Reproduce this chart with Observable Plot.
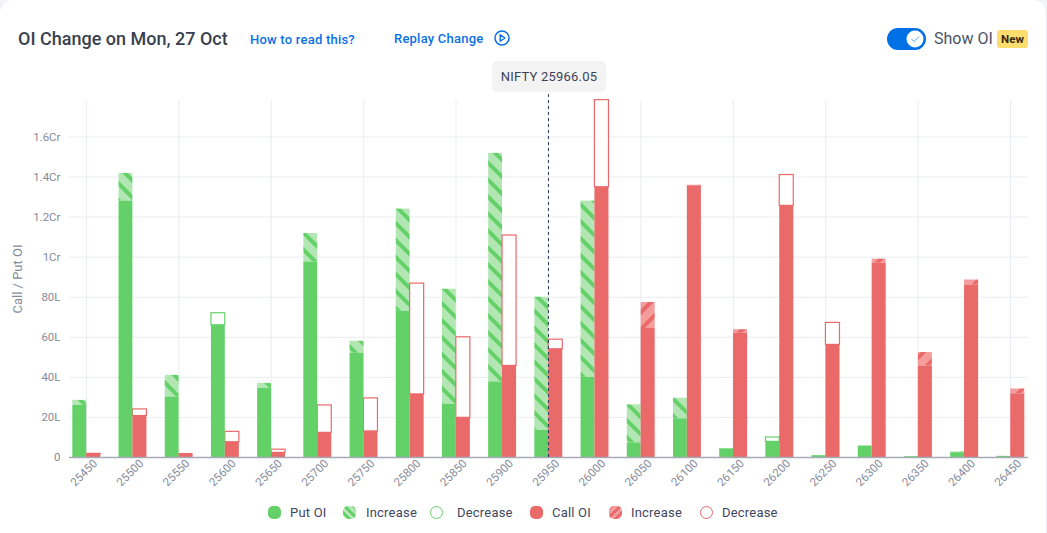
<!DOCTYPE html>
<html>
<head>
<meta charset="utf-8">
<script src="https://cdn.jsdelivr.net/npm/d3@7"></script>
<script src="https://cdn.jsdelivr.net/npm/@observablehq/plot@0.6"></script>
<style>
html,body{margin:0;padding:0;background:#f4f5f7;width:1047px;height:533px;overflow:hidden;font-family:Roboto,sans-serif}
#card{position:absolute;left:-1px;top:-1px;width:1046px;height:560px;background:#fff;border:1px solid #e8eaef;border-radius:12px}
.abs{position:absolute;white-space:nowrap}
#chart{position:absolute;left:0;top:0}
#title{left:18px;top:28px;font-size:18px;font-weight:500;color:#393f4f;line-height:22px}
.link{color:#0b70e8;font-size:13px;font-weight:500;line-height:16px;letter-spacing:.22px}
#tip{left:492px;top:61px;width:114px;height:31px;background:#f3f3f4;border-radius:5px;color:#3c4356;font-size:13px;line-height:31px;text-align:center;letter-spacing:.2px}
#show{left:934px;top:29px;font-size:16px;color:#4a5168;line-height:20px}
#new{left:997px;top:30px;width:31px;height:18px;background:#ffdc6e;border-radius:3px;font-size:11.5px;font-weight:700;line-height:18px;text-align:center;color:#33290a}
.leg{position:absolute;top:505px;font-size:13px;line-height:15px;color:#3f4760;letter-spacing:.2px;white-space:nowrap}
.sw{position:absolute;top:506px;width:13px;height:13px;border-radius:5px;box-sizing:border-box}
</style>
</head>
<body>
<div id="card"></div>
<div id="chart"></div>
<div class="abs" id="title">OI Change on Mon, 27 Oct</div>
<div class="abs link" style="left:250px;top:32px">How to read this?</div>
<div class="abs link" style="left:394px;top:31px">Replay Change</div>
<svg class="abs" style="left:493px;top:29px" width="18" height="18" viewBox="0 0 18 18"><circle cx="9" cy="9" r="7" fill="none" stroke="#0b70e8" stroke-width="1.5"/><path d="M7.2 5.8 L12 9 L7.2 12.2 Z" fill="none" stroke="#0b70e8" stroke-width="1.4" stroke-linejoin="round"/></svg>
<div class="abs" id="tip">NIFTY 25966.05</div>
<svg class="abs" style="left:887px;top:28px" width="40" height="22" viewBox="0 0 40 22"><rect x="0" y="0" width="39" height="22" rx="11" fill="#0070e6"/><circle cx="28" cy="11" r="8.5" fill="#fff"/><path d="M24.5 11 L27 13.5 L32 8.5" fill="none" stroke="#5a9bea" stroke-width="1"/></svg>
<div class="abs" id="show">Show OI</div>
<div class="abs" id="new">New</div>
<div id="legend"></div>
<script>
const strikes = [25450,25500,25550,25600,25650,25700,25750,25800,25850,25900,25950,26000,26050,26100,26150,26200,26250,26300,26350,26400,26450];
// Open interest in lakh: current session and previous snapshot
const putOI   = [28.5,141.8,41,66,37,111.8,58,124,84,151.8,80,128,26.3,29.6,4.5,7.8,1,5.8,0.5,2.8,0.6];
const putPrev = [26,128,30.2,72,34.5,97.6,52,73,26.6,37.7,13.6,40,7.3,19.3,4.3,10,0.9,5.7,0.4,2.4,0.5];
const callOI   = [1.6,20.7,2.0,7.6,2.3,12.3,13,31.5,19.8,45.7,54,134.9,77.4,135.9,63.8,125.6,56.2,99,52.4,88.6,34.2];
const callPrev = [1.8,24.0,2.0,12.8,3.9,26,29.5,86.8,60,110.8,58.8,178.4,64.4,135.6,62,141,67.2,97,45.7,86,31.8];
const yTicks = [0,20,40,60,80,100,120,140,160];
const spotStrike = 25950;
const GREEN="#64d168", RED="#ea6969", GREEN_L="#b2e7b4", RED_L="#f59d9d";

const barW = 15.2;
const rows = strikes.flatMap((s,i)=>[
  {side:"put", x1:s-barW+0.5, x2:s+0.3, cur:putOI[i], prev:putPrev[i]},
  {side:"call",x1:s+0.3, x2:s+barW+0.3, cur:callOI[i], prev:callPrev[i]}
]);
const col = d=>d.side==="put"?GREEN:RED;
const fmt = v=> v===0?"0": v>=100? (v/100)+"Cr" : v+"L";

const chart = Plot.plot({
  width:1047, height:500, marginLeft:69, marginRight:19, marginTop:100, marginBottom:43,
  style:{fontFamily:"Roboto,sans-serif",fontSize:"11.5px",background:"transparent"},
  x:{domain:[25431.7,26469.5]},
  y:{domain:[0,178.2]},
  marks:[
    Plot.ruleY(yTicks.slice(1),{stroke:"#eaecf1",strokeWidth:1}),
    Plot.ruleX(strikes.filter((s,i)=>i%2===0),{stroke:"#eaecf1",strokeWidth:1}),
    Plot.rect(rows.filter(d=>d.cur>d.prev),{x1:"x1",x2:"x2",y1:"prev",y2:"cur",fill:d=>d.side==="put"?"url(#hatchPut)":"url(#hatchCall)"}),
    Plot.rect(rows.filter(d=>d.cur<d.prev),{x1:"x1",x2:"x2",y1:"cur",y2:"prev",fill:"#fff",stroke:col,strokeWidth:1.2}),
    Plot.rect(rows,{x1:"x1",x2:"x2",y1:0,y2:d=>Math.min(d.cur,d.prev),fill:col}),
    Plot.ruleY([0],{stroke:"#a6aab6",strokeWidth:1.5}),
    Plot.ruleX([spotStrike],{y1:0,y2:181.2,stroke:"#2c3a55",strokeWidth:1,strokeDasharray:"3,3"}),
    Plot.axisY({ticks:yTicks,tickFormat:fmt,tickSize:0,tickPadding:9,color:"#868b9a",label:null}),
    Plot.axisY({ticks:[],tickSize:0,color:"#868b9a",fontSize:13,label:"Call / Put OI",labelAnchor:"center",labelArrow:"none",labelOffset:57}),
    Plot.axisX({ticks:strikes,tickFormat:d=>String(d),tickSize:0,tickPadding:4,tickRotate:-45,dx:9,color:"#868b9a",label:null})
  ]
});
const ns="http://www.w3.org/2000/svg";
const defs=document.createElementNS(ns,"defs");
defs.innerHTML=`
<pattern id="hatchPut" patternUnits="userSpaceOnUse" width="12" height="12" patternTransform="rotate(-45)"><rect width="12" height="12" fill="${GREEN_L}"/><rect width="4" height="12" fill="${GREEN}"/></pattern>
<pattern id="hatchCall" patternUnits="userSpaceOnUse" width="12" height="12" patternTransform="rotate(45)"><rect width="12" height="12" fill="${RED_L}"/><rect width="4" height="12" fill="${RED}"/></pattern>`;
chart.insertBefore(defs,chart.firstChild);
document.getElementById("chart").appendChild(chart);

const legendItems=[
  ["Put OI",268,290,`background:${GREEN}`],
  ["Increase",343,366,`background:repeating-linear-gradient(45deg,${GREEN_L} 0 3px,${GREEN} 3px 6px)`],
  ["Decrease",430,457,`background:#fff;border:1px solid ${GREEN};border-radius:6.5px`],
  ["Call OI",530,552,`background:${RED}`],
  ["Increase",609,631,`background:repeating-linear-gradient(-45deg,${RED_L} 0 3px,${RED} 3px 6px)`],
  ["Decrease",700,722,`background:#fff;border:1px solid ${RED};border-radius:6.5px`]
];
const lg=document.getElementById("legend");
for(const [t,sx,tx,st] of legendItems){
  const s=document.createElement("div");s.className="sw";s.style.cssText=`left:${sx}px;${st}`;lg.appendChild(s);
  const l=document.createElement("div");l.className="leg";l.style.left=tx+"px";l.textContent=t;lg.appendChild(l);
}
</script>
</body>
</html>
